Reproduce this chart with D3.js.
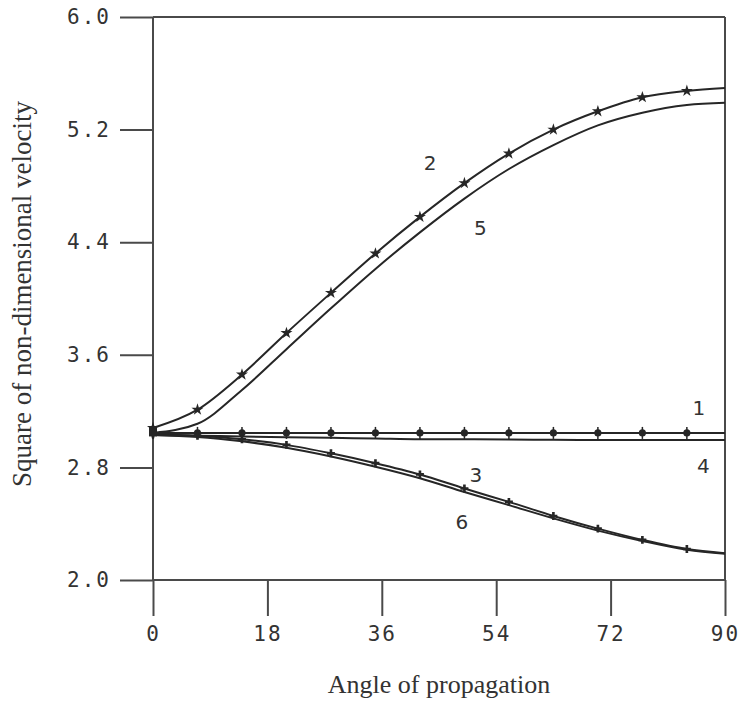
<!DOCTYPE html>
<html>
<head>
  <script src="https://d3js.org/d3.v7.min.js"></script>
  <style>
    body { margin: 0; background: #fff; }
  </style>
</head>
<body>
  <svg width="743" height="704"></svg>

  <script>
    // angle of propagation (deg) where curves were sampled
    const angles = [0, 7, 14, 21, 28, 35, 42, 49, 56, 63, 70, 77, 84, 90];

    // square of non-dimensional velocity
    const curve1 = [3.045, 3.045, 3.045, 3.045, 3.045, 3.045, 3.045, 3.045, 3.045, 3.045, 3.045, 3.045, 3.045, 3.045];
    const curve2 = [3.08, 3.21, 3.46, 3.755, 4.04, 4.32, 4.58, 4.82, 5.03, 5.20, 5.33, 5.43, 5.475, 5.495];
    const curve3 = [3.035, 3.025, 3.0, 2.96, 2.90, 2.83, 2.75, 2.65, 2.555, 2.455, 2.365, 2.285, 2.22, 2.19];
    const curve4 = [3.03, 3.025, 3.02, 3.015, 3.01, 3.005, 3.0, 3.0, 2.998, 2.996, 2.995, 2.995, 2.995, 2.995];
    const curve5 = [3.045, 3.11, 3.35, 3.64, 3.93, 4.21, 4.47, 4.71, 4.92, 5.09, 5.23, 5.32, 5.375, 5.39];
    const curve6 = [3.03, 3.016, 2.985, 2.94, 2.878, 2.805, 2.723, 2.625, 2.532, 2.438, 2.351, 2.277, 2.215, 2.186];

    const xTicks = [0, 18, 36, 54, 72, 90];
    const yTicks = [2.0, 2.8, 3.6, 4.4, 5.2, 6.0];

    // curve label: which curve, angle & value where the number sits
    const labels = [
      { name: "1", a: 85.9, v: 3.222 },
      { name: "2", a: 43.6, v: 4.963 },
      { name: "3", a: 50.8, v: 2.746 },
      { name: "4", a: 86.6, v: 2.81 },
      { name: "5", a: 51.5, v: 4.5 },
      { name: "6", a: 48.6, v: 2.41 }
    ];

    const series = [
      { name: "1", values: curve1, marker: "circle" },
      { name: "2", values: curve2, marker: "star" },
      { name: "3", values: curve3, marker: "cross" },
      { name: "4", values: curve4, marker: null },
      { name: "5", values: curve5, marker: null },
      { name: "6", values: curve6, marker: null }
    ];

    const plotL = 153, plotR = 725, plotT = 17, plotB = 580;
    const svg = d3.select("svg");

    const x = d3.scaleLinear().domain([0, 90]).range([plotL, plotR]);
    const y = d3.scaleLinear().domain([2.0, 6.0]).range([plotB, plotT]);

    const axisColor = "#4a4a4a";
    const lineColor = "#262626";

    // frame: top and right border
    svg.append("line")
      .attr("x1", plotL).attr("x2", plotR)
      .attr("y1", plotT).attr("y2", plotT)
      .attr("stroke", axisColor).attr("stroke-width", 2);
    svg.append("line")
      .attr("x1", plotR).attr("x2", plotR)
      .attr("y1", plotT).attr("y2", plotB)
      .attr("stroke", axisColor).attr("stroke-width", 2);

    const tickFont = "'DejaVu Sans Mono', monospace";

    const yAxis = svg.append("g")
      .attr("transform", "translate(" + plotL + ",0)")
      .call(d3.axisLeft(y).tickValues(yTicks).tickSize(33).tickPadding(9)
        .tickFormat(d3.format(".1f")));
    yAxis.selectAll("path, line").attr("stroke", axisColor).attr("stroke-width", 2);
    yAxis.select(".domain").attr("d", "M0," + plotT + "V" + plotB);
    yAxis.selectAll("text")
      .attr("font-family", tickFont)
      .attr("font-size", 21)
      .attr("letter-spacing", 2)
      .attr("fill", "#333");

    const xAxis = svg.append("g")
      .attr("transform", "translate(0," + plotB + ")")
      .call(d3.axisBottom(x).tickValues(xTicks).tickSize(36).tickPadding(10));
    xAxis.selectAll("path, line").attr("stroke", axisColor).attr("stroke-width", 2);
    xAxis.select(".domain").attr("d", "M" + plotL + ",0H" + plotR);
    xAxis.selectAll("text")
      .attr("font-family", tickFont)
      .attr("font-size", 21)
      .attr("letter-spacing", 2)
      .attr("fill", "#333");

    // curves
    const line = d3.line()
      .x((d, i) => x(angles[i]))
      .y(d => y(d))
      .curve(d3.curveMonotoneX);

    svg.selectAll(".curve")
      .data(series)
      .enter()
      .append("path")
      .attr("class", "curve")
      .attr("d", d => line(d.values))
      .attr("fill", "none")
      .attr("stroke", lineColor)
      .attr("stroke-width", 2);

    // markers (every sampled angle except the end point)
    const symbols = {
      circle: d3.symbol().type(d3.symbolCircle).size(40),
      star: d3.symbol().type(d3.symbolStar).size(45),
      cross: d3.symbol().type(d3.symbolCross).size(35)
    };

    series.filter(s => s.marker).forEach(s => {
      const pts = s.values.slice(0, angles.length - 1)
        .map((v, i) => ({ a: angles[i], v: v }));
      svg.append("g")
        .selectAll("path")
        .data(pts)
        .enter()
        .append("path")
        .attr("transform", d => "translate(" + x(d.a) + "," + y(d.v) + ")")
        .attr("d", symbols[s.marker])
        .attr("fill", lineColor);
      if (s.marker === "circle") {
        svg.append("g")
          .selectAll("line")
          .data(pts)
          .enter()
          .append("line")
          .attr("x1", d => x(d.a)).attr("x2", d => x(d.a))
          .attr("y1", d => y(d.v) - 6).attr("y2", d => y(d.v) + 6)
          .attr("stroke", lineColor).attr("stroke-width", 1.5);
      }
    });

    // dark blob at the origin where all markers overlap
    svg.append("rect")
      .attr("x", x(0) - 4).attr("y", y(3.09))
      .attr("width", 8).attr("height", y(3.02) - y(3.09))
      .attr("fill", lineColor);

    // curve numbers
    svg.selectAll(".lbl")
      .data(labels)
      .enter()
      .append("text")
      .attr("class", "lbl")
      .attr("x", d => x(d.a))
      .attr("y", d => y(d.v))
      .attr("text-anchor", "middle")
      .attr("dominant-baseline", "central")
      .attr("font-family", "'DejaVu Sans', sans-serif")
      .attr("font-size", 20)
      .attr("fill", "#333")
      .text(d => d.name);

    // axis titles
    svg.append("text")
      .attr("x", (plotL + plotR) / 2)
      .attr("y", 693)
      .attr("text-anchor", "middle")
      .attr("font-family", "'Liberation Serif', serif")
      .attr("font-size", 26)
      .attr("fill", "#333")
      .text("Angle of propagation");

    svg.append("text")
      .attr("transform", "translate(31,294) rotate(-90)")
      .attr("text-anchor", "middle")
      .attr("font-family", "'Liberation Serif', serif")
      .attr("font-size", 27)
      .attr("fill", "#333")
      .text("Square of non-dimensional velocity");
  </script>
</body>
</html>
